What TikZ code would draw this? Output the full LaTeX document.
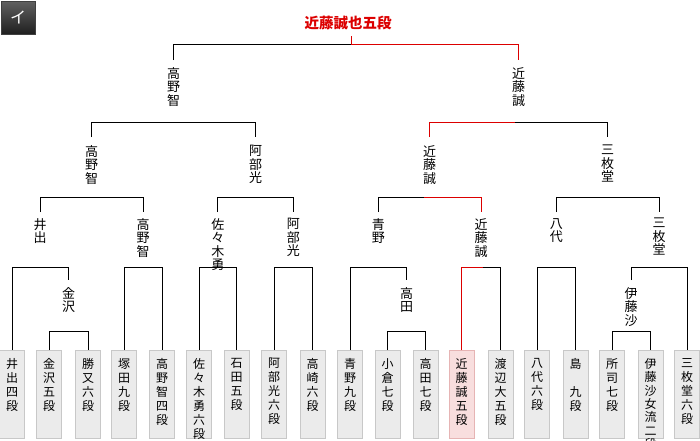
\documentclass[tikz,border=0pt]{standalone}
\usepackage{fontspec}
\newfontfamily\jp{Noto Sans CJK JP}
\definecolor{winred}{RGB}{220,0,0}
\definecolor{boxfill}{RGB}{235,235,235}
\definecolor{boxline}{RGB}{200,200,200}
\definecolor{pinkfill}{RGB}{248,222,222}
\definecolor{pinkline}{RGB}{230,180,180}
\tikzset{
  pbox/.style={draw=boxline, fill=boxfill, line width=1pt, minimum width=25pt, minimum height=88pt, anchor=north, inner sep=0pt},
  pboxwin/.style={pbox, draw=pinkline, fill=pinkfill},
  ptext/.style={font=\jp\fontsize{12}{14}\selectfont, align=center, anchor=north, inner sep=0pt},
  wlabel/.style={font=\jp\fontsize{13}{13.5}\selectfont, align=center, anchor=north, inner sep=0pt},
  bline/.style={line width=1pt, black},
  rline/.style={line width=1pt, winred},
  tab/.style={draw=black!75, line width=1pt, top color=black!62, bottom color=black!88, minimum width=34pt, minimum height=33pt, inner sep=0pt, text=white, font=\jp\fontsize{16}{16}\selectfont}
}
\begin{document}
\begin{tikzpicture}[x=1pt,y=-1pt]
\useasboundingbox (0,0) rectangle (700,440);
\fill[white] (0,0) rectangle (700,440);
% tab
\node[tab] (tab) at (18,17.5) {イ};
% title
\node[font=\jp\bfseries\fontsize{14.5}{15}\selectfont, text=winred, inner sep=0pt] (title) at (348,23) {近藤誠也五段};
% boxes
\foreach \i/\x/\t in {1/12/{井\\出\\四\\段},2/49/{金\\沢\\五\\段},3/88/{勝\\又\\六\\段},4/124/{塚\\田\\九\\段},5/162/{高\\野\\智\\四\\段},6/199/{佐\\々\\木\\勇\\六\\段},7/236.5/{石\\田\\五\\段},8/274/{阿\\部\\光\\六\\段},9/312.5/{高\\崎\\六\\段},10/350/{青\\野\\九\\段},11/387.5/{小\\倉\\七\\段},12/425.5/{高\\田\\七\\段},14/500.5/{渡\\辺\\大\\五\\段},15/537/{八\\代\\六\\段},16/575.5/{島\\\mbox{}\\九\\段},17/612/{所\\司\\七\\段},19/687/{三\\枚\\堂\\六\\段}}{
  \node[pbox] (b\i) at (\x,350) {};
  \node[ptext] (t\i) at ([yshift=-8pt]b\i.north) {\t};
}
\node[pboxwin] (b13) at (461.5,350) {};
\node[ptext] (t13) at ([yshift=-8pt]b13.north) {近\\藤\\誠\\五\\段};
\node[pbox] (b18) at (650.5,350) {};
\node[ptext, font=\jp\fontsize{12}{13.4}\selectfont] (t18) at ([yshift=-8pt]b18.north) {伊\\藤\\沙\\女\\流\\二\\段};
% bracket levels
\coordinate (hA) at (0,331);
\coordinate (hB) at (0,267);
\coordinate (hC) at (0,197);
\coordinate (hD) at (0,122);
\coordinate (hE) at (0,44);
% level-1 winners
\coordinate (k1) at (68.5,280);
\coordinate (k2) at (406.5,280);
\coordinate (k3) at (631,280);
\node[wlabel] (K1) at ([yshift=-7pt]k1) {金\\沢};
\node[wlabel] (K2) at ([yshift=-7pt]k2) {高\\田};
\node[wlabel] (K3) at ([yshift=-7pt]k3) {伊\\藤\\沙};
% level-2 winners
\coordinate (m1) at (40,212);
\coordinate (m2) at (143,212);
\coordinate (m3) at (217.75,212);
\coordinate (m4) at (293.25,212);
\coordinate (m5) at (378.25,212);
\coordinate (m6) at (481,212);
\coordinate (m7) at (556.25,212);
\coordinate (m8) at (659,212);
\node[wlabel] (M1) at ([yshift=-6pt]m1) {井\\出};
\node[wlabel] (M2) at ([yshift=-6pt]m2) {高\\野\\智};
\node[wlabel] (M3) at ([yshift=-6pt]m3) {佐\\々\\木\\勇};
\node[wlabel] (M4) at ([yshift=-6pt]m4) {阿\\部\\光};
\node[wlabel] (M5) at ([yshift=-6pt]m5) {青\\野};
\node[wlabel] (M6) at ([yshift=-6pt]m6) {近\\藤\\誠};
\node[wlabel] (M7) at ([yshift=-6pt]m7) {八\\代};
\node[wlabel] (M8) at ([yshift=-6pt]m8) {三\\枚\\堂};
% level-3 winners
\coordinate (n1) at (91.5,137);
\coordinate (n2) at (255.5,137);
\coordinate (n3) at (429.6,137);
\coordinate (n4) at (607.6,137);
\node[wlabel] (N1) at ([yshift=-8pt]n1) {高\\野\\智};
\node[wlabel] (N2) at ([yshift=-8pt]n2) {阿\\部\\光};
\node[wlabel] (N3) at ([yshift=-8pt]n3) {近\\藤\\誠};
\node[wlabel] (N4) at ([yshift=-8pt]n4) {三\\枚\\堂};
% level-4 winners
\coordinate (p1) at (173.5,60);
\coordinate (p2) at (518.6,60);
\node[wlabel] (P1) at ([yshift=-7pt]p1) {高\\野\\智};
\node[wlabel] (P2) at ([yshift=-7pt]p2) {近\\藤\\誠};
% split points
\coordinate (s1) at (482.7,267);
\coordinate (s2) at (424,197);
\coordinate (s3) at (515,122);
\coordinate (s4) at (351,44);
\coordinate (tick) at (351,36);
% round 1
\draw[bline] (b2.north) |- (b3.north |- hA) -- (b3.north);
\draw[bline] (b11.north) |- (b12.north |- hA) -- (b12.north);
\draw[bline] (b17.north) |- (b18.north |- hA) -- (b18.north);
% round 2
\draw[bline] (b1.north) |- (k1 |- hB) -- (k1);
\draw[bline] (b4.north) |- (b5.north |- hB) -- (b5.north);
\draw[bline] (b6.north) |- (b7.north |- hB) -- (b7.north);
\draw[bline] (b8.north) |- (b9.north |- hB) -- (b9.north);
\draw[bline] (b10.north) |- (k2 |- hB) -- (k2);
\draw[rline] (b13.north) |- (s1);
\draw[bline] (s1) -| (b14.north);
\draw[bline] (b15.north) |- (b16.north |- hB) -- (b16.north);
\draw[bline] (k3) |- (b19.north |- hB) -- (b19.north);
% round 3
\draw[bline] (m1) |- (m2 |- hC) -- (m2);
\draw[bline] (m3) |- (m4 |- hC) -- (m4);
\draw[bline] (m5) |- (s2);
\draw[rline] (s2) -| (m6);
\draw[bline] (m7) |- (m8 |- hC) -- (m8);
% round 4
\draw[bline] (n1) |- (n2 |- hD) -- (n2);
\draw[rline] (n3) |- (s3);
\draw[bline] (s3) -| (n4);
% final
\draw[bline] (p1) |- (s4);
\draw[rline] (s4) -| (p2);
\draw[rline] (s4) -- (tick);
\end{tikzpicture}
\end{document}
